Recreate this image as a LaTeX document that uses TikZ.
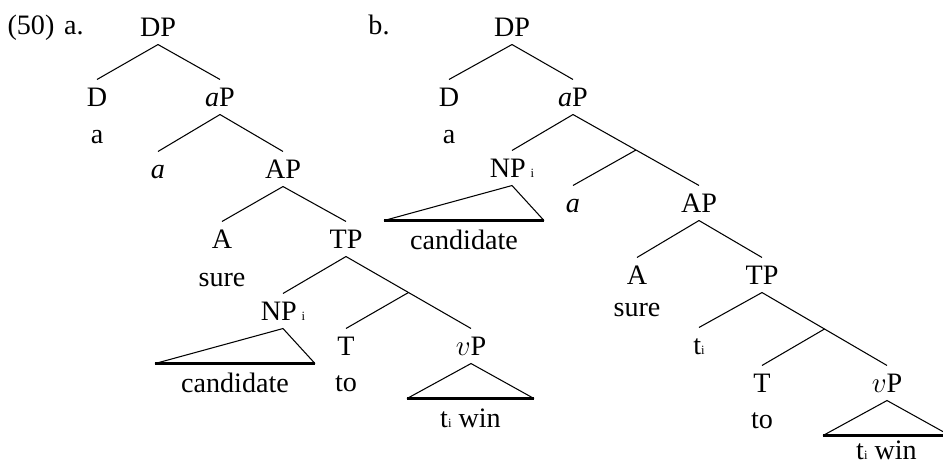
\documentclass[tikz,border=0pt]{standalone}
\usepackage{fontspec}
\setmainfont{Liberation Serif}
\usepackage{tikz}
\usetikzlibrary{positioning,calc}

\newcommand{\ix}[1]{{\fontsize{9}{9}\selectfont #1}}

\tikzset{
  cat/.style={inner sep=0.2cm, text height=0.45cm, text depth=0pt, anchor=base,
    font=\fontsize{20}{24}\selectfont},
  base/.style={line width=1.6pt},
}

\begin{document}
\begin{tikzpicture}[x=0.025cm, y=-0.025cm, line width=0.75pt, node distance=0.05cm]
    \useasboundingbox (0,0) rectangle (943,463);

    % Define nodes (a)
    \node[cat]		(ex)		at (31,34)	{(50)};
    \node[cat]		(exA)		at (74,34)	{a.};
    \node[cat]		(dpA)		at (158,36)	{DP};
    \node[cat]		(dA)		at (97,106)	{D};
    \node[cat]		(apA)		at (220,106)	{\textit{a}P};
    \node[cat, below = of dA]		(wdA)		{a};
    \node[cat]		(aA)		at (158,178)	{\textit{a}};
    \node[cat]		(adjpA)		at (283,178)	{AP};
    \node[cat]		(adjA)		at (222,248)	{A};
    \node[cat]		(tpA)		at (346,248)	{TP};
    \node[cat, below = 0.075cm of adjA]		(sureA)		{sure};
    \node[cat]		(npA)		at (283,320)	{NP\,\ix{i}};
    \node[cat]		(tA)		at (346,355)	{T};
    \node[cat]		(vpA)		at (471,355)	{$v$P};
    \node[cat, below = 0.025cm of tA]		(toA)		{to};

    % Connect nodes (a)
    \draw (dpA.south) -- (dA.north);
    \draw (dpA.south) -- (apA.north);
    \draw (apA.south) -- (aA.north);
    \draw (apA.south) -- (adjpA.north);
    \draw (adjpA.south) -- (adjA.north);
    \draw (adjpA.south) -- (tpA.north);
    \draw (tpA.south) -- (npA.north);
    \coordinate (brA) at ($(tpA.south)!0.5!(vpA.north)$);
    \draw (tpA.south) -- (vpA.north);
    \draw (brA) -- (tA.north);

    % triangles (a)
    \path (npA.south) ++(-128,35) coordinate (nlA) (npA.south) ++(32,35) coordinate (nrA);
    \draw (nlA) -- (npA.south) -- (nrA);
    \draw[base] (nlA) -- (nrA);
    \coordinate (nmA) at ($(nlA)!0.5!(nrA)$);
    \node[cat, below = of nmA]		(candA)		{candidate};

    \path (vpA.south) ++(-64,35) coordinate (vlA) (vpA.south) ++(63,35) coordinate (vrA);
    \draw (vlA) -- (vpA.south) -- (vrA);
    \draw[base] (vlA) -- (vrA);
    \coordinate (vmA) at ($(vlA)!0.5!(vrA)$);
    \node[cat, below = of vmA]		(winA)		{t\ix{i} win};

    % Define nodes (b)
    \node[cat]		(exB)		at (379,34)	{b.};
    \node[cat]		(dpB)		at (512,36)	{DP};
    \node[cat]		(dB)		at (449,106)	{D};
    \node[cat]		(apB)		at (573,106)	{\textit{a}P};
    \node[cat, below = of dB]		(wdB)		{a};
    \node[cat]		(npB)		at (512,177)	{NP\,\ix{i}};
    \node[cat]		(aB)		at (573,212)	{\textit{a}};
    \node[cat]		(adjpB)		at (699,212)	{AP};
    \node[cat]		(adjB)		at (637,284)	{A};
    \node[cat]		(tpB)		at (762,284)	{TP};
    \node[cat, below = -0.075cm of adjB]		(sureB)		{sure};
    \node[cat]		(trB)		at (699,354)	{t\ix{i}};
    \node[cat]		(tB)		at (762,392)	{T};
    \node[cat]		(vpB)		at (887,392)	{$v$P};
    \node[cat, below = 0.025cm of tB]		(toB)		{to};

    % Connect nodes (b)
    \draw (dpB.south) -- (dB.north);
    \draw (dpB.south) -- (apB.north);
    \draw (apB.south) -- (npB.north);
    \coordinate (brB) at ($(apB.south)!0.5!(adjpB.north)$);
    \draw (apB.south) -- (adjpB.north);
    \draw (brB) -- (aB.north);
    \draw (adjpB.south) -- (adjB.north);
    \draw (adjpB.south) -- (tpB.north);
    \draw (tpB.south) -- (trB.north);
    \coordinate (brC) at ($(tpB.south)!0.5!(vpB.north)$);
    \draw (tpB.south) -- (vpB.north);
    \draw (brC) -- (tB.north);

    % triangles (b)
    \path (npB.south) ++(-128,35) coordinate (nlB) (npB.south) ++(32,35) coordinate (nrB);
    \draw (nlB) -- (npB.south) -- (nrB);
    \draw[base] (nlB) -- (nrB);
    \coordinate (nmB) at ($(nlB)!0.5!(nrB)$);
    \node[cat, below = of nmB]		(candB)		{candidate};

    \path (vpB.south) ++(-64,35) coordinate (vlB) (vpB.south) ++(63,35) coordinate (vrB);
    \draw (vlB) -- (vpB.south) -- (vrB);
    \draw[base] (vlB) -- (vrB);
    \coordinate (vmB) at ($(vlB)!0.5!(vrB)$);
    \node[cat, below = -0.075cm of vmB]		(winB)		{t\ix{i} win};
\end{tikzpicture}
\end{document}
